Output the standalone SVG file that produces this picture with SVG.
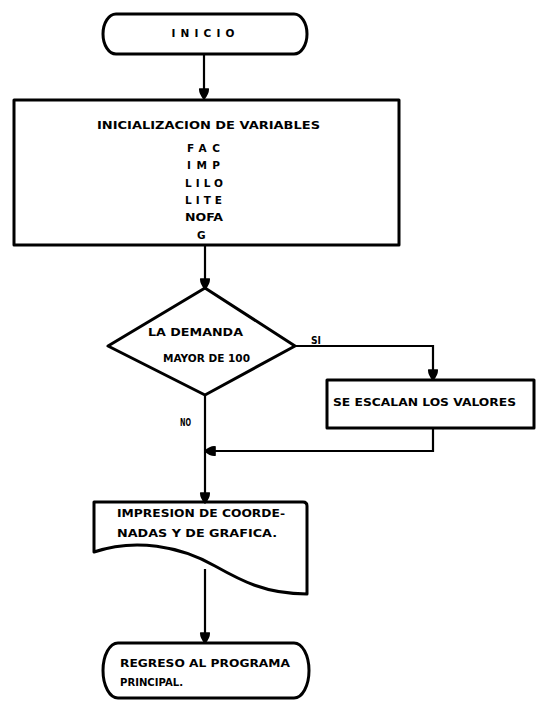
<svg xmlns="http://www.w3.org/2000/svg" width="536" height="709" viewBox="0 0 536 709">
<style>
.s{fill:none;stroke:#000;stroke-width:3;stroke-linejoin:round}
.c{fill:none;stroke:#000;stroke-width:2.2}
.t{font-family:"DejaVu Sans",sans-serif;font-weight:bold;font-size:10.5px;fill:#000}
.m{text-anchor:middle}
</style>
<defs>
<marker id="ah2" viewBox="0 0 10 10" refX="9" refY="5" markerWidth="12" markerHeight="12" orient="auto" markerUnits="userSpaceOnUse">
<path d="M0,1 Q4,0 10,5 Q4,10 0,9 Z" fill="#000"/>
</marker>
</defs>
<rect width="536" height="709" fill="#fff"/>
<g id="connectors">
<line class="c" x1="204" y1="54" x2="204" y2="99" marker-end="url(#ah2)"/>
<line class="c" x1="205" y1="246" x2="205" y2="289" marker-end="url(#ah2)"/>
<polyline class="c" points="295,346 433,346 433,380" marker-end="url(#ah2)"/>
<polyline class="c" points="433,428 433,451 205,451" marker-end="url(#ah2)"/>
<line class="c" x1="205" y1="395" x2="205" y2="503" marker-end="url(#ah2)"/>
<line class="c" x1="205" y1="569" x2="205" y2="643" marker-end="url(#ah2)"/>
<text class="t" x="311" y="344" textLength="10" lengthAdjust="spacingAndGlyphs">SI</text>
<text class="t" x="180" y="426" textLength="11" lengthAdjust="spacingAndGlyphs">NO</text>
</g>
<g id="inicio">
<path class="s" d="M116,14 H294 A13,20 0 0 1 294,54 H116 A13,20 0 0 1 116,14 Z"/>
<text class="t m" x="203" y="37" textLength="63" lengthAdjust="spacing">INICIO</text>
</g>
<g id="init">
<rect class="s" x="14" y="100" width="385" height="145"/>
<text class="t" x="97" y="129" textLength="223" lengthAdjust="spacingAndGlyphs">INICIALIZACION DE VARIABLES</text>
<text class="t" x="187" y="152" textLength="33" lengthAdjust="spacing">FAC</text>
<text class="t" x="187" y="169" textLength="33" lengthAdjust="spacing">IMP</text>
<text class="t" x="185" y="187" textLength="38" lengthAdjust="spacing">LILO</text>
<text class="t" x="185" y="204" textLength="37" lengthAdjust="spacing">LITE</text>
<text class="t" x="185" y="221" textLength="38" lengthAdjust="spacingAndGlyphs">NOFA</text>
<text class="t" x="197" y="239">G</text>
</g>
<g id="decision">
<polygon class="s" points="205,288 295,346 205,395 108,346"/>
<text class="t" x="148" y="336" textLength="95" lengthAdjust="spacingAndGlyphs">LA DEMANDA</text>
<text class="t" x="163" y="362" textLength="87" lengthAdjust="spacingAndGlyphs">MAYOR DE 100</text>
</g>
<g id="escalar">
<rect class="s" x="327" y="380" width="207" height="48"/>
<text class="t" x="333" y="406" textLength="183" lengthAdjust="spacingAndGlyphs">SE ESCALAN LOS VALORES</text>
</g>
<g id="impresion">
<path class="s" d="M94,502 H303 Q307,502 307,506 V594 C265,594 240,580 215,566 C180,546 135,538 94,552 Z"/>
<text class="t" x="117" y="517" textLength="168" lengthAdjust="spacingAndGlyphs">IMPRESION DE COORDE-</text>
<text class="t" x="117" y="537" textLength="160" lengthAdjust="spacingAndGlyphs">NADAS Y DE GRAFICA.</text>
</g>
<g id="regreso">
<path class="s" d="M118,643 H294 A15,27.5 0 0 1 294,698 H118 A15,27.5 0 0 1 118,643 Z"/>
<text class="t" x="120" y="667" textLength="170" lengthAdjust="spacingAndGlyphs">REGRESO AL PROGRAMA</text>
<text class="t" x="120" y="686" textLength="63" lengthAdjust="spacingAndGlyphs">PRINCIPAL.</text>
</g>
</svg>
